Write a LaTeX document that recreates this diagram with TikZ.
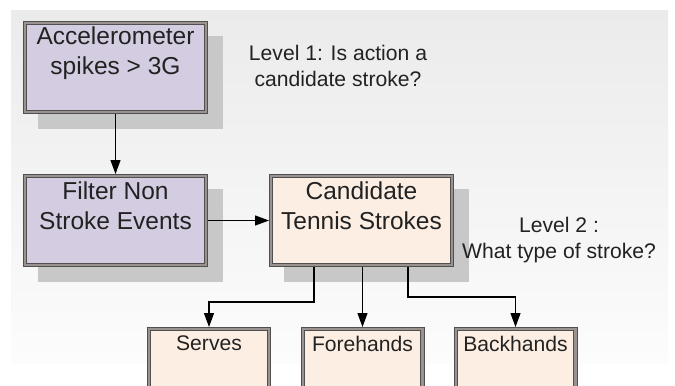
\documentclass[tikz,border=0pt]{standalone}
\usepackage{fontspec}
\setmainfont{Liberation Sans}
\usetikzlibrary{arrows.meta}
\definecolor{bgtop}{HTML}{EBEBEB}
\definecolor{bgbot}{HTML}{FCFCFC}
\definecolor{shadowc}{HTML}{C8C8C8}
\definecolor{lav}{HTML}{D4CCE0}
\definecolor{peach}{HTML}{FDEEE3}
\definecolor{edgec}{HTML}{505050}
\definecolor{midc}{HTML}{9A928E}
\definecolor{txt}{HTML}{222222}
\tikzset{
  boxbase/.style={rectangle, draw=edgec, double=midc, line width=1bp, double distance=2.4bp, inner sep=0pt, outer sep=2.2bp},
  bigbox/.style={boxbase, minimum width=180.6bp, minimum height=88.6bp},
  smallbox/.style={boxbase, fill=peach, minimum width=119.6bp, minimum height=88.6bp},
  bigtext/.style={align=center, inner sep=0pt, text=txt, font=\fontsize{24.6}{30}\selectfont},
  smalltext/.style={align=center, inner sep=0pt, text=txt, font=\fontsize{21.2}{26}\selectfont},
  leveltext/.style={align=center, inner sep=0pt, text=txt, font=\fontsize{21.2}{27}\selectfont},
  conn/.style={line width=1.2bp, black, -{Triangle[length=14bp,width=10bp]}}
}
\begin{document}
\begin{tikzpicture}[x=1bp,y=-1bp]
\useasboundingbox (0,0) rectangle (675,385);
\fill[white] (0,0) rectangle (675,385);
\shade[top color=bgtop, bottom color=bgbot] (11,10) rectangle (668,363);
% shadows
\fill[shadowc] (38,36) rectangle (223,129);
\fill[shadowc] (38,189) rectangle (223,282);
\fill[shadowc] (284,189) rectangle (469,282);
% boxes
\node[bigbox, fill=lav, anchor=north west] (acc) at (23,21) {};
\node[bigbox, fill=lav, anchor=north west] (filter) at (23,174) {};
\node[bigbox, fill=peach, anchor=north west] (cand) at (269,174) {};
\node[smallbox, anchor=north] (serves) at (209,327) {};
\node[smallbox, anchor=north] (fore) at (362.5,327) {};
\node[smallbox, anchor=north] (back) at (515.5,327) {};
% texts
\node[bigtext, anchor=north] (acct) at (115.5,26.5) {Accelerometer\\spikes > 3G};
\node[bigtext, anchor=north] (filtert) at (115.5,181.5) {Filter Non\\Stroke Events};
\node[bigtext, anchor=north] (candt) at (361.5,181.5) {Candidate\\Tennis Strokes};
\node[smalltext, anchor=north] (servest) at (209,335.5) {Serves};
\node[smalltext, anchor=north] (foret) at (362.5,335.5) {Forehands};
\node[smalltext, anchor=north] (backt) at (515.5,335.5) {Backhands};
\node[leveltext, anchor=north] (lev1) at (338,44.5) {Level 1: Is action a\\candidate stroke?};
\node[leveltext, anchor=north] (lev2) at (559,216.5) {Level 2 :\\What type of stroke?};
% connectors
\draw[conn] (acc) -- (filter);
\draw[conn] (filter) -- (cand);
\draw[conn] ([xshift=-47.5bp]cand.south) -- ++(0,35) -| (serves.north);
\draw[conn] (cand.south -| fore.north) -- (fore.north);
\draw[conn] ([xshift=46.5bp]cand.south) -- ++(0,30) -| (back.north);
\end{tikzpicture}
\end{document}
